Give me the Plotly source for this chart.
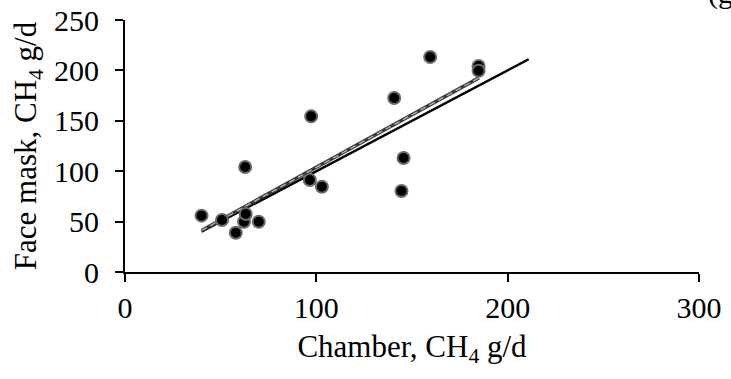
import plotly.graph_objects as go

# Data
chamber = [40.0, 50.7, 57.9, 62.2, 63.1, 69.9, 62.8, 96.6, 102.9, 97.3,
           140.7, 145.6, 144.5, 159.5, 184.8, 184.8]
facemask = [55.9, 51.6, 39.0, 49.9, 57.5, 49.9, 104.2, 91.3, 84.6, 154.4,
            172.6, 113.1, 80.4, 213.3, 204.4, 199.7]

unity_x = [40, 211]
unity_y = [40, 211]

reg_x = [40, 185]
reg_y = [41.2, 192.6]

x_ticks = [0, 100, 200, 300]
y_ticks = [0, 50, 100, 150, 200, 250]

FONT = "Liberation Serif"
FS_TICK = 30
FS_TITLE = 31

fig = go.Figure()

fig.add_trace(go.Scatter(x=unity_x, y=unity_y, mode="lines",
                         line=dict(color="black", width=2.4), showlegend=False))
fig.add_trace(go.Scatter(x=reg_x, y=reg_y, mode="lines",
                         line=dict(color="#3a3a3a", width=3.5), showlegend=False))
fig.add_trace(go.Scatter(x=reg_x, y=reg_y, mode="lines",
                         line=dict(color="#b0b0b0", width=1.4, dash="6px,4px"),
                         showlegend=False))
fig.add_trace(go.Scatter(x=chamber, y=facemask, mode="markers",
                         marker=dict(size=12, color="black",
                                     line=dict(color="#6a6a6a", width=2)),
                         showlegend=False))

fig.add_annotation(text="(g)", xref="paper", yref="paper",
                   x=(706 - 125) / 574, y=1 + 27 / 252,
                   xanchor="left", yanchor="middle", showarrow=False,
                   font=dict(family=FONT, size=FS_TICK, color="black"))

fig.update_layout(
    template="none",
    width=731, height=379,
    margin=dict(l=125, r=32, t=20, b=107, autoexpand=False),
    paper_bgcolor="white", plot_bgcolor="white",
    font=dict(family=FONT, size=FS_TICK, color="black"),
    xaxis=dict(range=[0, 300], tickvals=x_ticks, showgrid=False, zeroline=False,
               automargin=False,
               showline=True, linecolor="black", linewidth=2,
               ticks="outside", ticklen=8, tickwidth=2, tickcolor="black",
               tickfont=dict(size=FS_TICK),
               title=dict(text="Chamber, CH<sub>4</sub> g/d", standoff=12,
                          font=dict(size=FS_TITLE)),
               ticklabelstandoff=0),
    yaxis=dict(range=[0, 250], tickvals=y_ticks, showgrid=False, zeroline=False,
               automargin=False,
               showline=True, linecolor="black", linewidth=2,
               ticks="outside", ticklen=8, tickwidth=2, tickcolor="black",
               tickfont=dict(size=FS_TICK),
               title=dict(text="Face mask, CH<sub>4</sub> g/d", standoff=8,
                          font=dict(size=FS_TITLE)),
               ticklabelstandoff=10),
)

fig.write_html("out.html", config={"displayModeBar": False},
               post_script="document.body.style.margin='0';document.body.style.overflow='hidden';")
